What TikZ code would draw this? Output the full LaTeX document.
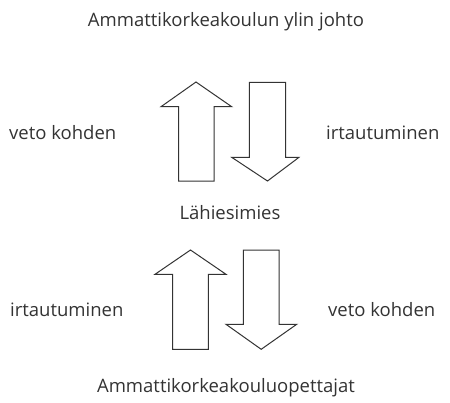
\documentclass[tikz,border=0pt]{standalone}
\usepackage{fontspec}
\setmainfont{Open Sans}
\definecolor{ink}{HTML}{333333}
\begin{document}
\begin{tikzpicture}[x=1pt,y=-1pt,
  lbl/.style={text=ink,font=\fontsize{18.5}{20}\selectfont,inner sep=0pt,anchor=base},
  arr/.style={draw=ink,line width=1pt,line join=miter,fill=white}]
\useasboundingbox (0,0) rectangle (450,402);
% labels
\node[lbl] (top) at (226,26) {Ammattikorkeakoulun ylin johto};
\node[lbl,anchor=base west] (l1) at (9,139) {veto kohden};
\node[lbl,anchor=base west] (r1) at (326,139) {irtautuminen};
\node[lbl] (mid) at (230,219) {Lähiesimies};
\node[lbl,anchor=base west] (l2) at (10,316) {irtautuminen};
\node[lbl,anchor=base west] (r2) at (328,316) {veto kohden};
\node[lbl] (bot) at (226,392) {Ammattikorkeakouluopettajat};
% upper arrows
\draw[arr] (196,82) -- (231.7,106.7) -- (214,106.7) -- (214,181) -- (178.7,181) -- (178.7,106.7) -- (161,106.7) -- cycle;
\draw[arr] (249.3,82.3) -- (285.7,82.3) -- (285.7,157.3) -- (299,157.3) -- (267.5,181) -- (231.7,157.3) -- (249.3,157.3) -- cycle;
% lower arrows
\draw[arr] (190.5,250) -- (226,274.3) -- (208.3,274.3) -- (208.3,349.3) -- (172.7,349.3) -- (172.7,274.3) -- (155,274.3) -- cycle;
\draw[arr] (243.3,250) -- (279,250) -- (279,324.3) -- (296.7,324.3) -- (261.2,349.3) -- (226,324.3) -- (243.3,324.3) -- cycle;
\end{tikzpicture}
\end{document}
